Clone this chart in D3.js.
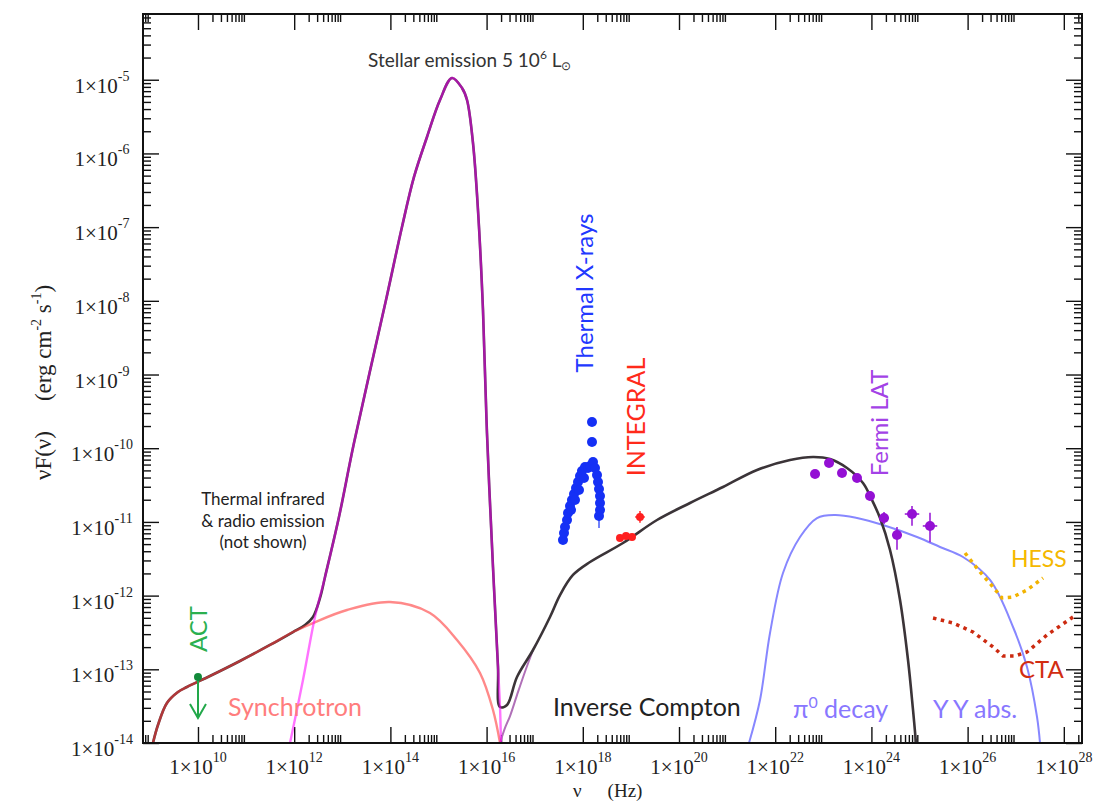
<!DOCTYPE html>
<html>
<head>
<meta charset="utf-8">
<script src="https://cdn.jsdelivr.net/npm/d3@7/dist/d3.min.js"></script>
<style>
	body { margin: 0; background: #fff; }
	svg { display: block; }
	.axis line { stroke: #111; stroke-width: 1.4px; }
	.axis path { display: none; }
	.lbl { font-family: Lato, 'Open Sans', sans-serif; }
	.num { font-family: 'Liberation Serif', 'DejaVu Serif', serif; fill: #222; }
</style>
</head>
<body>
<div id="chart"></div>
<script>
// every pair is [log10(nu / Hz), log10(nuF(nu) / erg cm-2 s-1)]
var totalModel = [[9.064,-14],[9.168,-13.756],[9.355,-13.457],[9.584,-13.308],[9.771,-13.24],[10.249,-13.091],
	[10.873,-12.887],[11.497,-12.67],[11.975,-12.494],[12.225,-12.399],[12.391,-12.29],[12.537,-12.032],
	[12.641,-11.747],[12.931,-10.933],[13.243,-9.929],[13.909,-7.989],[14.241,-6.998],[14.491,-6.319],
	[14.761,-5.777],[15.031,-5.275],[15.281,-4.976],[15.489,-5.112],[15.593,-5.275],[15.717,-5.858],
	[15.821,-6.767],[15.925,-8.124],[16.008,-9.793],[16.133,-11.612],[16.237,-12.969],[16.279,-13.511],
	[16.424,-13.484],[16.632,-13.104],[16.965,-12.738],[17.318,-12.29],[17.526,-11.992],[17.796,-11.72],
	[18.15,-11.544],[18.836,-11.286],[19.543,-10.974],[20.229,-10.743],[20.915,-10.526],[21.622,-10.295],
	[22.308,-10.16],[22.786,-10.119],[23.139,-10.146],[23.493,-10.268],[23.825,-10.472],[24.012,-10.703],
	[24.179,-10.947],[24.387,-11.381],[24.595,-12.06],[24.761,-12.874],[24.865,-13.552],[24.927,-14]];
var stellarModel = [[11.913,-14],[12.183,-13.145],[12.432,-12.29],[12.641,-11.747],[12.931,-10.933],
	[13.243,-9.929],[13.909,-7.989],[14.241,-6.998],[14.491,-6.319],[14.761,-5.777],[15.031,-5.275],
	[15.281,-4.976],[15.489,-5.112],[15.593,-5.275],[15.717,-5.858],[15.821,-6.767],[15.925,-8.124],
	[16.008,-9.793],[16.133,-11.612],[16.237,-12.969],[16.279,-13.511],[16.299,-14]];
var synchrotronModel = [[9.064,-14],[9.168,-13.756],[9.355,-13.457],[9.584,-13.308],[9.771,-13.24],
	[10.249,-13.091],[10.873,-12.887],[11.497,-12.67],[11.975,-12.494],[12.391,-12.372],[13.098,-12.195],
	[13.992,-12.087],[14.823,-12.236],[15.385,-12.602],[15.863,-13.05],[16.133,-13.552],[16.279,-14]];
var comptonModel = [[16.279,-14],[16.383,-13.796],[16.487,-13.634],[16.632,-13.35],[16.8,-13.03],[16.965,-12.738]];
var pionModel = [[21.455,-14],[21.684,-13.416],[21.892,-12.507],[22.162,-11.693],[22.516,-11.205],
	[22.869,-10.947],[23.243,-10.906],[23.701,-10.947],[24.241,-11.042],[24.948,-11.205],[25.426,-11.34],
	[25.904,-11.476],[26.466,-11.788],[26.944,-12.426],[27.235,-12.969],[27.443,-13.647],[27.505,-14]];
var hessSensitivity = [[25.946,-11.422],[26.258,-11.679],[26.528,-11.883],[26.715,-12.032],[26.944,-12.019],
	[27.235,-11.924],[27.568,-11.761]];
var ctaSensitivity = [[25.281,-12.304],[25.697,-12.372],[26.112,-12.494],[26.528,-12.697],[26.736,-12.819],
	[26.986,-12.819],[27.235,-12.765],[27.651,-12.534],[28.191,-12.29]];

var thermalXrays = [[17.588,-11.245],[17.609,-11.15],[17.63,-11.069],[17.672,-10.974],[17.692,-10.879],
	[17.734,-10.784],[17.755,-10.838],[17.775,-10.703],[17.817,-10.621],[17.838,-10.703],[17.859,-10.54],
	[17.9,-10.458],[17.921,-10.567],[17.942,-10.377],[17.983,-10.309],[18.025,-10.404],[18.046,-10.255],
	[18.108,-10.268],[18.15,-10.241],[18.212,-10.187],[18.254,-10.268],[18.295,-10.363],[18.316,-10.458],
	[18.337,-10.553],[18.358,-10.648],[18.358,-10.743],[18.358,-10.838],[18.337,-10.919],
	[18.191,-9.916],[18.191,-9.644]];

var integralNu = [18.773, 18.898, 19.023, 19.189];
var integralFlux = [-11.218, -11.191, -11.205, -10.933];
var integralErr = [0.03, 0.03, 0.03, 0.08];
var integralBin = [0.05, 0.05, 0.05, 0.1];

var fermiNu = [22.828, 23.119, 23.389, 23.701, 23.971, 24.262, 24.532, 24.844, 25.218];
var fermiFlux = [-10.35, -10.2, -10.336, -10.404, -10.648, -10.947, -11.178, -10.893, -11.055];
var fermiErrLow = [0.04, 0.04, 0.04, 0.05, 0.06, 0.08, 0.2, 0.16, 0.22];
var fermiErrHigh = [0.04, 0.04, 0.04, 0.05, 0.06, 0.08, 0.11, 0.11, 0.18];
var fermiBin = [0, 0, 0, 0, 0, 0.1, 0.1, 0.15, 0.15];

var actNu = 10, actFlux = -13.104, actLimitTo = -13.66;

var xLabelExps = [10, 12, 14, 16, 18, 20, 22, 24, 26, 28];
var yLabelExps = [-14, -13, -12, -11, -10, -9, -8, -7, -6, -5];

var width = 1102, height = 801;
var frame = { left: 143, right: 1082, top: 14, bottom: 743 };

var xScale = d3.scaleLog()
	.domain([Math.pow(10, 8.857), Math.pow(10, 28.378)])
	.range([frame.left, frame.right]);
var yScale = d3.scaleLog()
	.domain([1e-14, Math.pow(10, -4.108)])
	.range([frame.bottom, frame.top]);
function px(d) { return xScale(Math.pow(10, d[0])); }
function py(d) { return yScale(Math.pow(10, d[1])); }

var svg = d3.select('#chart').append('svg')
	.attr('width', width)
	.attr('height', height);

svg.append('defs').append('clipPath').attr('id', 'plotclip')
	.append('rect')
	.attr('x', frame.left).attr('y', frame.top)
	.attr('width', frame.right - frame.left)
	.attr('height', frame.bottom - frame.top);

// ticks: majors every second decade on x, minors at 2..9 of those decades
var xDomain = xScale.domain(), yDomain = yScale.domain();
var xMajor = xLabelExps.map(function(e){ return Math.pow(10, e); });
var xMinor = [];
[8].concat(xLabelExps).forEach(function(e){
	for (var k = 2; k <= 9; k++) {
		var v = k * Math.pow(10, e);
		if (v > xDomain[0] && v < xDomain[1]) xMinor.push(v);
	}
});
var yMajor = yLabelExps.map(function(e){ return Math.pow(10, e); });
var yMinor = [];
yLabelExps.forEach(function(e){
	for (var k = 2; k <= 9; k++) {
		var v = k * Math.pow(10, e);
		if (v < yDomain[1]) yMinor.push(v);
	}
});

function addTicks(axis, tr) {
	svg.append('g').attr('class', 'axis').attr('transform', tr).call(axis);
}
addTicks(d3.axisBottom(xScale).tickValues(xMajor).tickSize(-16).tickFormat(''), 'translate(0,' + frame.bottom + ')');
addTicks(d3.axisBottom(xScale).tickValues(xMinor).tickSize(-8).tickFormat(''), 'translate(0,' + frame.bottom + ')');
addTicks(d3.axisTop(xScale).tickValues(xMajor).tickSize(-16).tickFormat(''), 'translate(0,' + frame.top + ')');
addTicks(d3.axisTop(xScale).tickValues(xMinor).tickSize(-8).tickFormat(''), 'translate(0,' + frame.top + ')');
addTicks(d3.axisLeft(yScale).tickValues(yMajor).tickSize(-16).tickFormat(''), 'translate(' + frame.left + ',0)');
addTicks(d3.axisLeft(yScale).tickValues(yMinor).tickSize(-8).tickFormat(''), 'translate(' + frame.left + ',0)');
addTicks(d3.axisRight(yScale).tickValues(yMajor).tickSize(-16).tickFormat(''), 'translate(' + frame.right + ',0)');
addTicks(d3.axisRight(yScale).tickValues(yMinor).tickSize(-8).tickFormat(''), 'translate(' + frame.right + ',0)');

// tick labels 1x10^n, centred like the original
function powLabel(sel) {
	sel.each(function(d){
		var t = d3.select(this);
		t.append('tspan').text('1×10');
		t.append('tspan').attr('dy', -12).attr('font-size', 14).text(d);
	});
}
svg.append('g').selectAll('text')
	.data(xLabelExps)
	.enter()
	.append('text')
	.attr('class', 'num')
	.attr('x', function(d){ return xScale(Math.pow(10, d)); })
	.attr('y', 774)
	.attr('text-anchor', 'middle')
	.attr('font-size', 21)
	.call(powLabel);
svg.append('g').selectAll('text')
	.data(yLabelExps)
	.enter()
	.append('text')
	.attr('class', 'num')
	.attr('x', 102)
	.attr('y', function(d){ return yScale(Math.pow(10, d)) + 13; })
	.attr('text-anchor', 'middle')
	.attr('font-size', 21)
	.call(powLabel);

// axis titles
var xTitle = svg.append('text').attr('class', 'num').attr('x', 573).attr('y', 797).attr('font-size', 19);
xTitle.append('tspan').text('ν');
xTitle.append('tspan').attr('dx', 26).text('(Hz)');
var yTitle = svg.append('text').attr('class', 'num')
	.attr('transform', 'translate(51,480) rotate(-90)')
	.attr('font-size', 23);
yTitle.append('tspan').text('νF(ν)');
yTitle.append('tspan').attr('dx', 30).text('(erg cm');
yTitle.append('tspan').attr('dy', -10).attr('font-size', 14).text('-2');
yTitle.append('tspan').attr('dy', 10).text(' s');
yTitle.append('tspan').attr('dy', -10).attr('font-size', 14).text('-1');
yTitle.append('tspan').attr('dy', 10).text(')');

// model curves
var linePath = d3.line().x(px).y(py).curve(d3.curveCatmullRom.alpha(0.5));
var plot = svg.append('g').attr('clip-path', 'url(#plotclip)');

function addCurve(data, color, w, opacity) {
	plot.append('path')
		.attr('d', linePath(data))
		.attr('fill', 'none')
		.attr('stroke', color)
		.attr('stroke-width', w)
		.attr('stroke-opacity', opacity);
}
addCurve(pionModel, '#8787ff', 2, 1);
addCurve(comptonModel, '#b070b8', 2, 1);
addCurve(totalModel, '#3b3438', 2.6, 1);
addCurve(synchrotronModel, '#ff3a3a', 2.4, 0.6);
addCurve(stellarModel, '#ff00ff', 2.4, 0.55);

function addDotted(data, color) {
	plot.append('path')
		.attr('d', d3.line().x(px).y(py)(data))
		.attr('fill', 'none')
		.attr('stroke', color)
		.attr('stroke-width', 3.5)
		.attr('stroke-dasharray', '3.5,4.5');
}
addDotted(hessSensitivity, '#f2b300');
addDotted(ctaSensitivity, '#cc2a10');

// thermal X-ray data
plot.append('g')
	.selectAll('circle')
	.data(thermalXrays)
	.enter()
	.append('circle')
	.attr('cx', px)
	.attr('cy', py)
	.attr('r', 5)
	.attr('fill', '#1530f5');
plot.append('line')
	.attr('x1', px(thermalXrays[27])).attr('x2', px(thermalXrays[27]))
	.attr('y1', py(thermalXrays[27])).attr('y2', py(thermalXrays[27]) + 12)
	.attr('stroke', '#1530f5').attr('stroke-width', 1.2);

// points with error bars
function addPoints(nu, flux, errLo, errHi, bin, color, r) {
	var g = plot.append('g');
	nu.forEach(function(n, i){
		var cx = xScale(Math.pow(10, n)), cy = yScale(Math.pow(10, flux[i]));
		g.append('line')
			.attr('x1', cx).attr('x2', cx)
			.attr('y1', yScale(Math.pow(10, flux[i] - errLo[i])))
			.attr('y2', yScale(Math.pow(10, flux[i] + errHi[i])))
			.attr('stroke', color).attr('stroke-width', 1.5);
		if (bin[i] > 0) {
			g.append('line')
				.attr('x1', xScale(Math.pow(10, n - bin[i]))).attr('x2', xScale(Math.pow(10, n + bin[i])))
				.attr('y1', cy).attr('y2', cy)
				.attr('stroke', color).attr('stroke-width', 1.5);
		}
		g.append('circle').attr('cx', cx).attr('cy', cy).attr('r', r).attr('fill', color);
	});
}
addPoints(integralNu, integralFlux, integralErr, integralErr, integralBin, '#ff2020', 4);
addPoints(fermiNu, fermiFlux, fermiErrLow, fermiErrHigh, fermiBin, '#9410d4', 5);

// ACT upper limit
var actX = xScale(Math.pow(10, actNu));
var actY = yScale(Math.pow(10, actFlux));
var actTip = yScale(Math.pow(10, actLimitTo));
plot.append('line').attr('x1', actX).attr('x2', actX).attr('y1', actY).attr('y2', actTip)
	.attr('stroke', '#22a84a').attr('stroke-width', 2);
plot.append('path')
	.attr('d', 'M' + (actX - 8) + ',' + (actTip - 14) + 'L' + actX + ',' + actTip + 'L' + (actX + 8) + ',' + (actTip - 14))
	.attr('fill', 'none').attr('stroke', '#22a84a').attr('stroke-width', 2);
plot.append('circle').attr('cx', actX).attr('cy', actY).attr('r', 4).attr('fill', '#128a3a');

// frame
svg.append('rect')
	.attr('x', frame.left).attr('y', frame.top)
	.attr('width', frame.right - frame.left)
	.attr('height', frame.bottom - frame.top)
	.attr('fill', 'none')
	.attr('stroke', '#111')
	.attr('stroke-width', 2);

// annotations
function label(txt, x, y, color, size, rotate, anchor) {
	var t = svg.append('text')
		.attr('class', 'lbl')
		.attr('fill', color)
		.attr('font-size', size)
		.attr('text-anchor', anchor || 'start')
		.attr('transform', 'translate(' + x + ',' + y + ')' + (rotate ? ' rotate(-90)' : ''))
		.text(txt);
	return t;
}
var stellar = label('Stellar emission 5 10', 368, 67, '#333', 19);
stellar.append('tspan').attr('dy', -8).attr('font-size', 12).text('6');
stellar.append('tspan').attr('dy', 8).text(' L');
stellar.append('tspan').attr('dy', 3).attr('font-size', 12).text('⊙');

label('Thermal  infrared', 263, 505, '#222', 17, false, 'middle');
label('& radio emission', 263, 527, '#222', 17, false, 'middle');
label('(not shown)', 263, 548, '#222', 17, false, 'middle');
label('ACT', 207, 629, '#2bb04f', 24, true, 'middle');
label('Synchrotron', 228, 716, '#ff7d7d', 25);
label('Inverse Compton', 553, 716, '#222', 25);
var pion = label('π', 793, 718, '#8877ff', 25);
pion.append('tspan').attr('dy', -10).attr('font-size', 16).text('0');
pion.append('tspan').attr('dy', 10).text(' decay');
label('Y Y abs.', 933, 718, '#8877ff', 25);
label('HESS', 1011, 567, '#f5b800', 23);
label('CTA', 1019, 678, '#d22d12', 24);
label('Thermal X-rays', 593, 293, '#2238ff', 24, true, 'middle');
label('INTEGRAL', 645, 417, '#ff2a1a', 25, true, 'middle');
label('Fermi LAT', 888, 423, '#a342e6', 24, true, 'middle');
</script>
</body>
</html>
